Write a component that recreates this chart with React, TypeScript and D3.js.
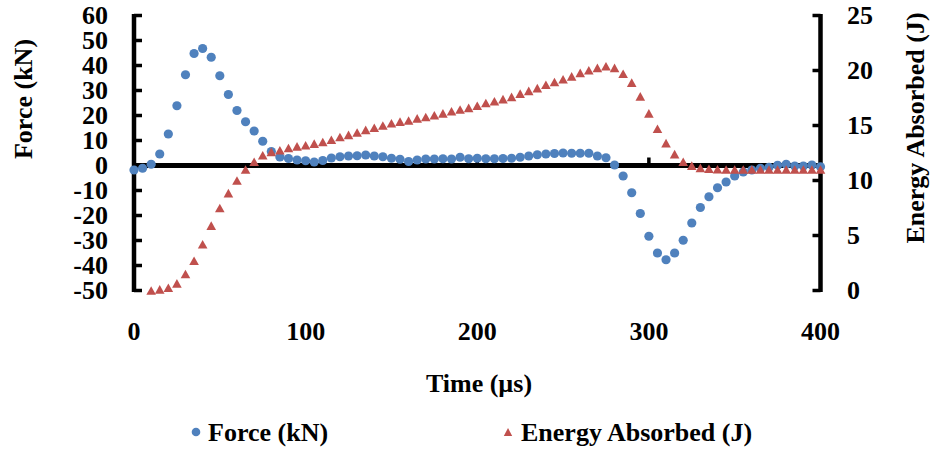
import React from "react";
import * as d3 from "d3";

const times: number[] = d3.range(0, 405, 5);

const forceKN: number[] = [
  -1.8, -1.1, 0.5, 4.6, 12.6, 23.9, 36.3, 44.8, 46.8, 43.3,
  35.9, 28.4, 22.0, 17.5, 13.8, 9.7, 5.6, 3.4, 2.8, 2.2,
  1.9, 1.4, 2.0, 3.0, 3.5, 3.8, 3.9, 4.2, 3.8, 3.5,
  2.9, 2.5, 1.6, 2.2, 2.6, 2.6, 2.7, 2.6, 3.3, 2.7,
  2.9, 2.7, 2.7, 2.8, 2.9, 3.3, 3.8, 4.3, 4.6, 4.8,
  5.0, 4.9, 4.9, 4.9, 3.8, 3.1, 0.2, -4.2, -10.9, -19.2,
  -28.3, -35.0, -37.7, -35.0, -29.9, -23.0, -16.8, -12.5, -8.9, -6.6,
  -4.2, -2.6, -1.8, -1.1, -0.7, 0.1, 0.5, -0.2, -0.2, 0.2,
  -0.5,
];

const energyTimes: number[] = d3.range(10, 405, 5);
const energyJ: number[] = [
  0.0, 0.1, 0.25, 0.65, 1.5, 2.7, 4.2, 5.9, 7.5, 8.85,
  10.0, 11.0, 11.7, 12.3, 12.6, 12.75, 12.95, 13.1, 13.2, 13.35,
  13.5, 13.7, 13.95, 14.15, 14.37, 14.6, 14.8, 15.0, 15.2, 15.35,
  15.45, 15.65, 15.77, 15.93, 16.1, 16.3, 16.45, 16.6, 16.8, 17.05,
  17.2, 17.4, 17.6, 17.9, 18.15, 18.4, 18.7, 18.95, 19.2, 19.47,
  19.78, 20.02, 20.24, 20.38, 20.24, 19.7, 18.9, 17.65, 16.1, 14.7,
  13.4, 12.4, 11.7, 11.35, 11.15, 11.07, 11.02, 11.0, 11.0, 11.0,
  11.0, 11.0, 11.0, 11.0, 11.0, 11.0, 11.0, 11.0, 11.0,
];

const xTicks: number[] = [0, 100, 200, 300, 400];
const leftTicks: number[] = [60, 50, 40, 30, 20, 10, 0, -10, -20, -30, -40, -50];
const rightTicks: number[] = [25, 20, 15, 10, 5, 0];

const xLabel = "Time (µs)";
const leftLabel = "Force (kN)";
const rightLabel = "Energy Absorbed (J)";
const seriesNames = ["Force (kN)", "Energy Absorbed (J)"];

const BLUE = "#4F81BD";
const RED = "#C0504D";
const FONT = "'Liberation Serif', 'Times New Roman', serif";

function triPath(cx: number, cy: number, hw: number, hh: number): string {
  return `M${cx},${cy - hh}L${cx + hw},${cy + hh}L${cx - hw},${cy + hh}Z`;
}

export default function App() {
  const W = 932;
  const H = 449;
  const x = d3.scaleLinear().domain([0, 400]).range([134, 820.5]);
  const yL = d3.scaleLinear().domain([-50, 60]).range([290.5, 15.5]);
  const yR = d3.scaleLinear().domain([0, 25]).range([290.5, 15.5]);
  const axisW = 4.5;
  const textStyle = { fontFamily: FONT, fontWeight: 700, fontSize: 26, fill: "#000" } as const;

  return (
    <svg width={W} height={H} style={{ position: "absolute", left: 0, top: 0 }}>
      <rect x={0} y={0} width={W} height={H} fill="#fff" />
      {/* left axis */}
      <line x1={x(0)} x2={x(0)} y1={yL(60) - 1.5} y2={yL(-50) + 1.5} stroke="#000" strokeWidth={axisW} />
      {leftTicks.map((t) => (
        <line key={"lt" + t} x1={x(0)} x2={x(0) + 8} y1={yL(t)} y2={yL(t)} stroke="#000" strokeWidth={3.5} />
      ))}
      {/* right axis */}
      <line x1={x(400)} x2={x(400)} y1={yR(25) - 1.5} y2={yR(0) + 1.5} stroke="#000" strokeWidth={axisW} />
      {rightTicks.map((t) => (
        <line key={"rt" + t} x1={x(400)} x2={x(400) - 8} y1={yR(t)} y2={yR(t)} stroke="#000" strokeWidth={3.5} />
      ))}
      {/* horizontal axis at zero */}
      <line x1={x(0)} x2={x(400)} y1={yL(0)} y2={yL(0)} stroke="#000" strokeWidth={5} />
      {xTicks.filter((t) => t > 0 && t < 400).map((t) => (
        <line key={"xt" + t} x1={x(t)} x2={x(t)} y1={yL(0)} y2={yL(0) - 8} stroke="#000" strokeWidth={3.5} />
      ))}
      {/* tick labels */}
      {leftTicks.map((t) => (
        <text key={"ll" + t} x={108} y={yL(t)} dy="0.34em" textAnchor="end" style={textStyle}>{t}</text>
      ))}
      {rightTicks.map((t) => (
        <text key={"rl" + t} x={847} y={yR(t)} dy="0.34em" textAnchor="start" style={textStyle}>{t}</text>
      ))}
      {xTicks.map((t) => (
        <text key={"xl" + t} x={x(t)} y={340} textAnchor="middle" style={textStyle}>{t}</text>
      ))}
      {/* titles */}
      <text x={479} y={392} textAnchor="middle" style={textStyle}>{xLabel}</text>
      <text transform="translate(32,99) rotate(-90)" textAnchor="middle" style={textStyle}>{leftLabel}</text>
      <text transform="translate(924,128) rotate(-90)" textAnchor="middle" style={textStyle}>{rightLabel}</text>
      {/* force series */}
      {times.map((t, i) => (
        <circle key={"f" + t} cx={x(t)} cy={yL(forceKN[i])} r={4.6} fill={BLUE} />
      ))}
      {/* energy series */}
      {energyTimes.map((t, i) => (
        <path key={"e" + t} d={triPath(x(t), yR(energyJ[i]), 4.8, 4.3)} fill={RED} />
      ))}
      {/* legend */}
      <circle cx={196} cy={432} r={4.3} fill={BLUE} />
      <text x={208} y={441} style={textStyle}>{seriesNames[0]}</text>
      <path d={triPath(508, 432, 4.2, 4)} fill={RED} />
      <text x={521} y={441} style={textStyle}>{seriesNames[1]}</text>
    </svg>
  );
}
